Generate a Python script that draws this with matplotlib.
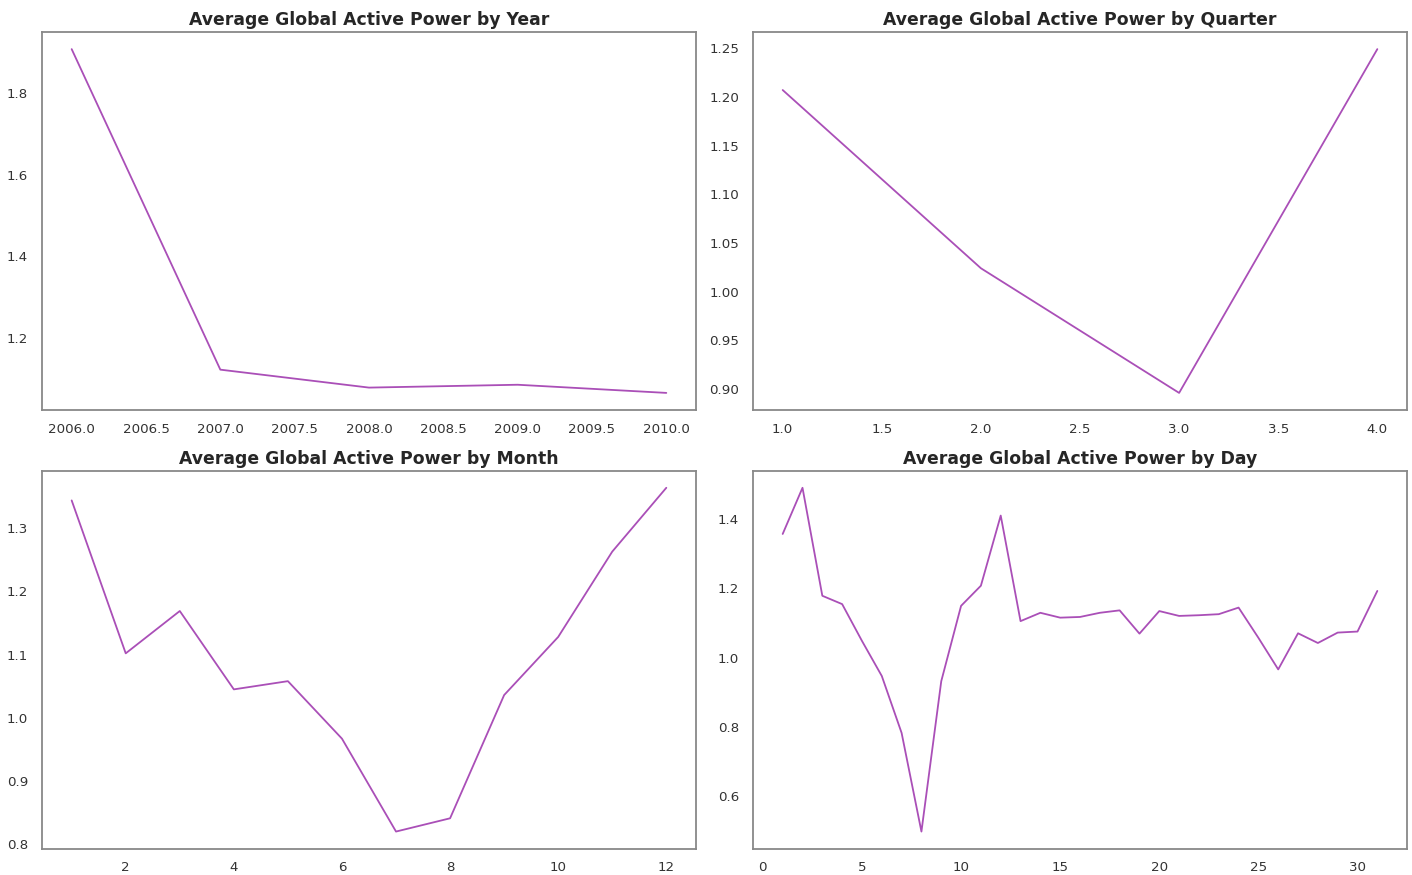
import matplotlib.pyplot as plt
import seaborn as sns

# valores
years = [2006, 2007, 2008, 2009, 2010]
year_power = [1.908, 1.122, 1.078, 1.085, 1.065]

quarters = [1, 2, 3, 4]
quarter_power = [1.207, 1.024, 0.896, 1.249]

months = list(range(1, 13))
month_power = [1.344, 1.102, 1.169, 1.045, 1.058, 0.967,
               0.820, 0.841, 1.036, 1.128, 1.263, 1.364]

days = list(range(1, 32))
day_power = [1.356, 1.489, 1.178, 1.154, 1.048, 0.947, 0.783, 0.499,
             0.932, 1.149, 1.207, 1.409, 1.105, 1.129, 1.115, 1.117,
             1.129, 1.136, 1.069, 1.134, 1.120, 1.122, 1.125, 1.144,
             1.057, 0.966, 1.070, 1.042, 1.072, 1.075, 1.192]

sns.set_style('white')
plt.rcParams['font.family'] = ['DejaVu Sans']

fig, axes = plt.subplots(2, 2, figsize=(14.12, 8.75), dpi=100)
fig.subplots_adjust(left=0.0297, right=0.9965, top=0.9635, bottom=0.03,
                    wspace=0.087, hspace=0.16)

panels = [
    (axes[0, 0], years, year_power, 'Average Global Active Power by Year'),
    (axes[0, 1], quarters, quarter_power, 'Average Global Active Power by Quarter'),
    (axes[1, 0], months, month_power, 'Average Global Active Power by Month'),
    (axes[1, 1], days, day_power, 'Average Global Active Power by Day'),
]

for ax, x, y, title in panels:
    ax.plot(x, y, color='#9b30ab', alpha=0.85, linewidth=1.3)
    ax.set_title(title, fontsize=12.4, fontweight='bold', color='#262626', pad=5)
    ax.tick_params(labelsize=9.6, colors='#333333', length=0)
    ax.tick_params(axis='x', pad=9)
    ax.tick_params(axis='y', pad=10)
    for s in ax.spines.values():
        s.set_color('#888888')
        s.set_linewidth(1.3)

axes[0, 0].set_xticks([2006.0, 2006.5, 2007.0, 2007.5, 2008.0, 2008.5, 2009.0, 2009.5, 2010.0])
axes[0, 0].set_xticklabels(['2006.0', '2006.5', '2007.0', '2007.5', '2008.0',
                            '2008.5', '2009.0', '2009.5', '2010.0'])
axes[0, 1].set_xticks([1.0, 1.5, 2.0, 2.5, 3.0, 3.5, 4.0])
axes[0, 1].set_xticklabels(['1.0', '1.5', '2.0', '2.5', '3.0', '3.5', '4.0'])
axes[1, 1].set_xticks([0, 5, 10, 15, 20, 25, 30])

plt.savefig('out.png')
